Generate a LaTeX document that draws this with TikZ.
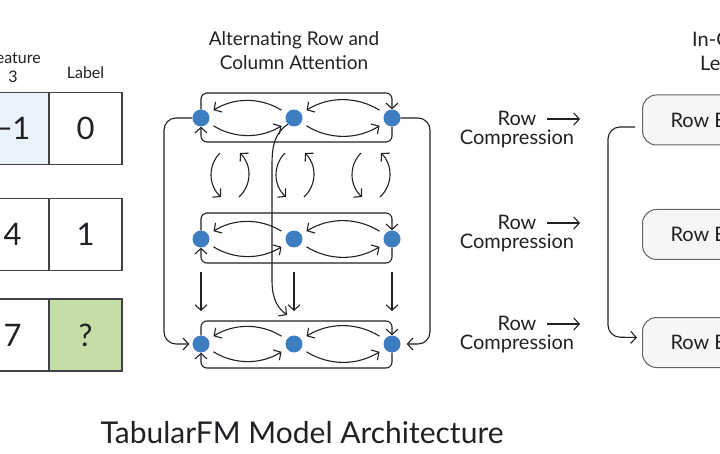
\documentclass[tikz,border=0pt]{standalone}
\usepackage{fontspec}
\setmainfont{Lato}
\usetikzlibrary{arrows.meta, positioning, calc}
\definecolor{dotblue}{RGB}{61,126,193}
\definecolor{cellblue}{RGB}{234,242,251}
\definecolor{cellgreen}{RGB}{196,222,166}
\definecolor{boxgray}{RGB}{245,246,245}
\definecolor{inkgray}{RGB}{32,33,36}
\tikzstyle{arrow} = [draw, -{Straight Barb[length=5.5pt,width=12pt]}, line width=1.1pt, inkgray]
\tikzstyle{dot} = [circle, fill=dotblue, minimum size=17pt, inner sep=0pt]
\tikzstyle{cell} = [draw=inkgray!85, line width=1.3pt, minimum width=73pt, minimum height=72pt, text=inkgray, font=\fontsize{31}{36}\selectfont]
\tikzstyle{txt} = [inner sep=0pt, text=inkgray, font=\fontsize{20}{24}\selectfont]
\tikzstyle{head} = [inner sep=0pt, text=inkgray, font=\fontsize{16}{19}\selectfont]
\tikzstyle{embbox} = [draw=inkgray!70, fill=boxgray, rounded corners=14pt, line width=1pt, minimum height=50pt, inner xsep=28pt, anchor=west, text=inkgray, font=\fontsize{20}{24}\selectfont]

\begin{document}
\begin{tikzpicture}[x=1pt, y=-1pt]
	\useasboundingbox (0,0) rectangle (720,454);
	\clip (0,0) rectangle (720,454);
	
	% Tabla de entrada
	\node[head, anchor=east] (hfeat) at (41,58) {eature};
	\node[head] (hthree) at (13,77) {3};
	\node[head] (hlabel) at (85.5,73) {Label};
	\node[cell, fill=cellblue] (f1) at (12.5,128.5) {−1};
	\node[cell] (l1) at (85.5,128.5) {0};
	\node[cell] (f2) at (12.5,234.5) {4};
	\node[cell] (l2) at (85.5,234.5) {1};
	\node[cell] (f3) at (12.5,335) {7};
	\node[cell, fill=cellgreen] (l3) at (85.5,335) {?};
	
	% Atencion por filas y columnas
	\node[txt, align=center, font=\fontsize{19}{23}\selectfont] (attn) at (294,51) {Alternating Row and\\[1pt]Column Attention};
	\foreach \c/\x in {1/201, 2/294, 3/392} {
		\node[dot] (d1\c) at (\x,118) {};
		\node[dot] (d2\c) at (\x,239) {};
		\node[dot] (d3\c) at (\x,344) {};
	}
	\foreach \r/\t/\b in {1/93/142, 2/213/263, 3/321/368} {
		\draw[arrow, shorten <=6pt, shorten >=6pt] (d\r1) to[bend right=32] (d\r2);
		\draw[arrow, shorten <=6pt, shorten >=6pt] (d\r2) to[bend right=32] (d\r1);
		\draw[arrow, shorten <=6pt, shorten >=6pt] (d\r2) to[bend right=32] (d\r3);
		\draw[arrow, shorten <=6pt, shorten >=6pt] (d\r3) to[bend right=32] (d\r2);
		\draw[arrow, rounded corners=6pt] (d\r1.north) -- (d\r1 |- 0,\t) -- (d\r3 |- 0,\t) -- (d\r3.north);
		\draw[arrow, rounded corners=6pt] (d\r3.south) -- (d\r3 |- 0,\b) -- (d\r1 |- 0,\b) -- (d\r1.south);
	}
	
	% Entre filas 1 y 2
	\foreach \c in {230, 295, 371} {
		\draw[arrow] (\c-10,153) .. controls (\c-22,165) and (\c-22,185) .. (\c-9,197);
		\draw[arrow] (\c+9,197) .. controls (\c+22,185) and (\c+22,165) .. (\c+10,153);
	}
	% Entre filas 2 y 3
	\foreach \x in {201, 294, 392} {
		\draw[arrow] (\x,272) -- (\x,311);
	}
	\draw[arrow] (d12.south west) .. controls (275,133) and (272,145) .. (272,165) -- (272,280) .. controls (272,300) and (278,308) .. (287,315);
	
	% Conexiones exteriores
	\draw[arrow, rounded corners=12pt, shorten >=3pt] (d11.west) -- (164,118) -- (164,344) -- (d31.west);
	\draw[arrow, rounded corners=12pt, shorten >=6pt] (d13.east) -- (430,118) -- (430,344) -- (d33.east);
	
	% Compresion de filas
	\foreach \r/\y in {1/118, 2/222, 3/323} {
		\node[txt] (rw\r) at (517,\y) {Row};
		\node[txt] (cp\r) at (517,\y+21) {Compression};
		\coordinate (ce\r) at (580,\y+1);
		\draw[arrow] (547,\y+1) -- (ce\r);
	}
	
	% Aprendizaje en contexto
	\node[txt, anchor=west] (icl) at (692,39) {In-C};
	\node[txt, anchor=west] (icl2) at (700,63) {Le};
	\node[embbox] (eb1) at (642,120) {Row E};
	\node[embbox] (eb2) at (642,234.5) {Row E};
	\node[embbox] (eb3) at (642,342.5) {Row E};
	\draw[arrow, rounded corners=12pt] ($(eb1.west)+(-7,7)$) -- (608,127) -- (608,337) -- ($(eb3.west)+(-5,-5)$);
	
	% Titulo
	\node[inner sep=0pt, text=inkgray, font=\fontsize{30}{36}\selectfont] (title) at (302,433) {TabularFM Model Architecture};
\end{tikzpicture}
\end{document}
